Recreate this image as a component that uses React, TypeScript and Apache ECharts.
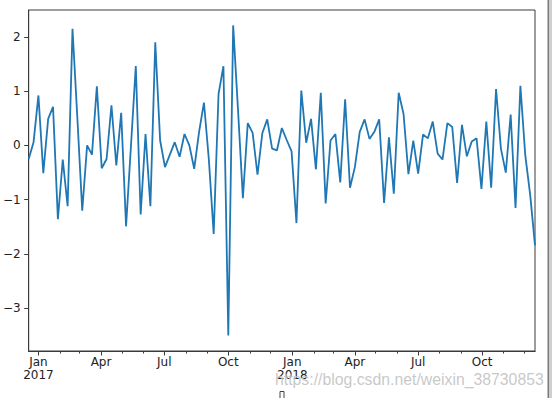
import React, { useEffect, useRef } from "react";
import * as echarts from "echarts";

const DAY = 86400000;
const startDate = Date.UTC(2016, 11, 18);
const values: number[] = [
  -0.25, 0.06, 0.92, -0.51, 0.49, 0.71, -1.36, -0.26, -1.12, 2.15,
  0.5, -1.2, 0.0, -0.17, 1.09, -0.42, -0.25, 0.74, -0.37, 0.6,
  -1.49, -0.02, 1.46, -1.27, 0.21, -1.12, 1.9, 0.09, -0.4, -0.17,
  0.06, -0.21, 0.21, 0.0, -0.43, 0.25, 0.79, -0.25, -1.63, 0.95,
  1.46, -3.5, 2.21, 0.65, -0.97, 0.41, 0.23, -0.54, 0.23, 0.48,
  -0.06, -0.09, 0.32, 0.1, -0.11, -1.43, 1.01, 0.05, 0.49, -0.44,
  0.97, -1.07, 0.09, 0.21, -0.68, 0.85, -0.78, -0.4, 0.25, 0.48,
  0.12, 0.25, 0.48, -1.06, 0.15, -0.89, 0.97, 0.58, -0.53, 0.09,
  -0.52, 0.2, 0.13, 0.44, -0.15, -0.26, 0.41, 0.34, -0.69, 0.38,
  -0.2, 0.07, 0.13, -0.8, 0.44, -0.78, 1.04, -0.06, -0.5, 0.57,
  -1.15, 1.1, -0.18, -0.9, -1.84,
];
const dates: number[] = values.map((_, i) => startDate + i * 7 * DAY);

const majorTicks: number[] = [
  Date.UTC(2017, 0, 1), Date.UTC(2017, 3, 1), Date.UTC(2017, 6, 1), Date.UTC(2017, 9, 1),
  Date.UTC(2018, 0, 1), Date.UTC(2018, 3, 1), Date.UTC(2018, 6, 1), Date.UTC(2018, 9, 1),
];
const minorTicks: number[] = [];
for (let y = 2017; y <= 2018; y++) {
  for (let m = 0; m < 12; m++) minorTicks.push(Date.UTC(y, m, 1));
}
const monthNames = ["Jan", "Feb", "Mar", "Apr", "May", "Jun", "Jul", "Aug", "Sep", "Oct", "Nov", "Dec"];
const yTicks: number[] = [-3, -2, -1, 0, 1, 2];
const yMin = -3.786;
const yMax = 2.494;
const watermark = "https://blog.csdn.net/weixin_38730853";

export default function App() {
  const ref = useRef<HTMLDivElement>(null);
  useEffect(() => {
    if (!ref.current) return;
    const chart = echarts.init(ref.current, null, { renderer: "svg" });
    const font = "DejaVu Sans";
    const xMin = dates[0];
    const xMax = dates[dates.length - 1];
    chart.setOption({
      animation: false,
      backgroundColor: "#ffffff",
      grid: {
        left: 28, top: 10, width: 507, height: 341,
        show: true, borderColor: "#3a3a3a", borderWidth: 1, backgroundColor: "transparent",
      },
      xAxis: [
        {
          type: "value", min: xMin, max: xMax, position: "bottom",
          axisLine: { show: true, onZero: false, lineStyle: { color: "#3a3a3a", width: 1 } },
          axisTick: { show: true, length: 4.5, lineStyle: { color: "#3a3a3a" }, customValues: majorTicks },
          axisLabel: {
            show: true, customValues: majorTicks, margin: 5,
            fontFamily: font, fontSize: 12, color: "#222", lineHeight: 12.5,
            hideOverlap: false,
            formatter: (v: number) => {
              const d = new Date(v);
              const m = d.getUTCMonth();
              return m === 0 ? monthNames[m] + "\n" + d.getUTCFullYear() : monthNames[m];
            },
          },
          splitLine: { show: false },
        },
        {
          type: "value", min: xMin, max: xMax, position: "bottom",
          axisLine: { show: true, onZero: false, lineStyle: { color: "#3a3a3a", width: 1 } },
          axisTick: { show: true, length: 2.5, lineStyle: { color: "#3a3a3a" }, customValues: minorTicks },
          axisLabel: { show: false },
          splitLine: { show: false },
        },
      ],
      yAxis: {
        type: "value", min: yMin, max: yMax,
        axisLine: { show: true, onZero: false, lineStyle: { color: "#3a3a3a", width: 1 } },
        axisTick: { show: true, length: 4.5, lineStyle: { color: "#3a3a3a" }, customValues: yTicks },
        axisLabel: {
          show: true, customValues: yTicks, margin: 8,
          fontFamily: font, fontSize: 12, color: "#222",
          formatter: (v: number) => (v < 0 ? "\u2212" + Math.abs(v) : String(v)),
        },
        splitLine: { show: false },
      },
      series: [
        {
          type: "line",
          xAxisIndex: 0,
          data: dates.map((d, i) => [d, values[i]]),
          showSymbol: false,
          symbol: "none",
          lineStyle: { color: "#1f77b4", width: 1.8 },
        },
      ],
      graphic: [
        { type: "rect", shape: { x: 280, y: 391.5, width: 4, height: 9 }, style: { fill: "none", stroke: "#444", lineWidth: 1 } },
        { type: "rect", shape: { x: 547.5, y: 0, width: 1.5, height: 398 }, style: { fill: "#7a7a7a" } },
        { type: "rect", shape: { x: 549, y: 0, width: 3, height: 398 }, style: { fill: "#cfcfcf" } },
        {
          type: "text", x: 275, y: 371, z: 100,
          style: {
            text: watermark, fontFamily: "Liberation Sans", fontSize: 15.8,
            fill: "rgba(190,190,190,0.85)", stroke: "rgba(255,255,255,0.6)", lineWidth: 0.5,
          },
        },
      ],
    });
    return () => chart.dispose();
  }, []);
  return <div ref={ref} style={{ position: "fixed", left: 0, top: 0, width: 554, height: 398 }} />;
}
